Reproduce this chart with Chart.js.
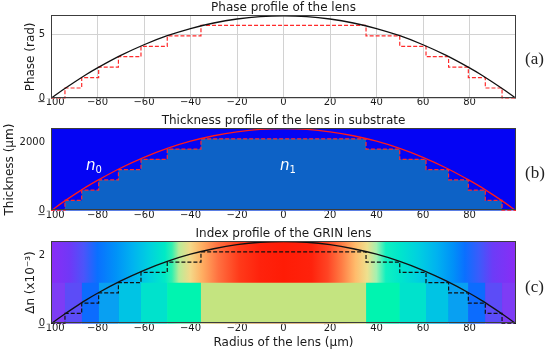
<!DOCTYPE html>
<html><head><meta charset="utf-8">
<script src="https://cdn.jsdelivr.net/npm/chart.js@4.4.0/dist/chart.umd.min.js"></script>
<style>
html,body{margin:0;padding:0;background:#fff;}
#wrap{position:relative;width:550px;height:353px;overflow:hidden;background:#fff;}
canvas{position:absolute;left:0;}
.tag{position:absolute;left:525px;font-family:"Liberation Serif","DejaVu Serif",serif;font-size:17px;line-height:17px;color:#222;}
</style></head><body>
<div id="wrap">
<canvas id="ca" style="top:0px" width="550" height="113"></canvas>
<canvas id="cb" style="top:113px" width="550" height="113"></canvas>
<canvas id="cc" style="top:226px" width="550" height="127"></canvas>
<div class="tag" style="top:50px">(a)</div>
<div class="tag" style="top:164px">(b)</div>
<div class="tag" style="top:278px">(c)</div>
</div>
<script>
// ---------- data ----------
const radius = [-100,-95,-90,-85,-80,-70,-60,-50,-40,-30,-20,-10,0,10,20,30,40,50,60,70,80,85,90,95,100];
const phaseCurve = [0,0.65,1.26,1.84,2.37,3.34,4.17,4.87,5.43,5.86,6.17,6.36,6.42,6.36,6.17,5.86,5.43,4.87,4.17,3.34,2.37,1.84,1.26,0.65,0];
const thicknessCurve = [0,243,471,688,886,1249,1559,1820,2030,2190,2306,2378,2400,2378,2306,2190,2030,1820,1559,1249,886,688,471,243,0];
const indexCurve = [0,0.24,0.47,0.69,0.89,1.25,1.56,1.82,2.03,2.19,2.31,2.38,2.40,2.38,2.31,2.19,2.03,1.82,1.56,1.25,0.89,0.69,0.47,0.24,0];
const stepEdges = [-100,-94,-86.8,-79.5,-71,-61.3,-50,-35.5,35.5,50,61.3,71,79.5,86.8,94,100];
const phaseSteps = [0,0.81,1.62,2.43,3.24,4.05,4.86,5.67,4.86,4.05,3.24,2.43,1.62,0.81,0,0];
const thicknessSteps = [0,300,600,900,1200,1500,1800,2100,1800,1500,1200,900,600,300,0,0];
const indexSteps = [0,0.3,0.6,0.9,1.2,1.5,1.8,2.1,1.8,1.5,1.2,0.9,0.6,0.3,0,0];
const blockLevel = 1.2;
const xTickValues = [-100,-80,-60,-40,-20,0,20,40,60,80];
const phaseTicks = [0,5];
const thicknessTicks = [0,2000];
const indexTicks = [0,2];
const phaseMax = 6.45, thicknessMax = 2405, indexMax = 2.405;

// ---------- styles ----------
const FONT = "'DejaVu Sans', sans-serif";
const TXT = '#1a1a1a';
const TICK = 10;
const blockColors = ['#7e3cf5','#5c4cf7','#0c6cfe','#08a0f2','#00c4e4','#00e2cc','#00f4b0','#c4e480',
                     '#00f4b0','#00e2cc','#00c4e4','#08a0f2','#0c6cfe','#5c4cf7','#7e3cf5'];
const bandStops = [[-100,'#8a2cf5'],[-92,'#7038f7'],[-86,'#4c54fa'],[-80,'#0a70ff'],[-72,'#0092f8'],
  [-65,'#00b2f0'],[-58,'#00d0e0'],[-51,'#00eac6'],[-48,'#30f0b0'],[-45,'#b8ec98'],[-40,'#f4d888'],
  [-35,'#ffae62'],[-28,'#ff7040'],[-19,'#ff3a1a'],[-10,'#ff220c'],[0,'#ff1c06'],[12,'#ff220c'],
  [19,'#ff4424'],[25,'#ff7c44'],[31,'#ffbc6c'],[36,'#eee08e'],[40,'#a4f0b0'],[44,'#10f0c0'],
  [50,'#00e6cc'],[58,'#00d0e0'],[66,'#00b2f0'],[73,'#0090f8'],[78,'#0a70ff'],[84,'#3a5cfb'],
  [90,'#6c3cf7'],[100,'#8a2cf5']];
const mediumLabels = [{main:'n',sub:'0',x:-85,y:1180},{main:'n',sub:'1',x:-1.5,y:1180}];

const pts = (xs, ys) => xs.map((x,i)=>({x, y:ys[i]}));
const fmt = v => v < 0 ? '\u2212' + Math.abs(v) : String(v);

function xScale(showTitle){
  return {
    type:'linear', min:-100, max:100, z:1,
    afterBuildTicks: s => { s.ticks = xTickValues.map(v=>({value:v})); },
    ticks:{ font:{family:FONT,size:TICK}, color:TXT, padding:-1.5, maxRotation:0, autoSkip:false, callback: fmt },
    grid:{ drawTicks:false, lineWidth:1 },
    border:{ display:false },
    title:{ display:showTitle, text:'Radius of the lens (\u03bcm)', color:TXT,
      font:{family:FONT,size:12}, padding:{top:0,bottom:3} }
  };
}
function yScale(max, tickVals, label, width){
  return {
    type:'linear', min:0, max:max, z:1,
    afterBuildTicks: s => { s.ticks = tickVals.map(v=>({value:v})); },
    afterFit: s => { s.width = width; },
    ticks:{ font:{family:FONT,size:TICK}, color:TXT, padding:6, callback: fmt },
    grid:{ drawTicks:false, lineWidth:1 },
    border:{ display:false },
    title:{ display:true, text:label, color:TXT, font:{family:FONT,size:12}, padding:{top:0,bottom:0} }
  };
}
const frame = {
  id:'frame',
  afterLayout(chart){
    // centre the panel title over the plotting area
    const t = chart.titleBlock, a = chart.chartArea;
    if (t && a) { t.left = a.left; t.right = a.right; t.width = a.right - a.left; }
  },
  afterDraw(chart){
    const a = chart.chartArea, c = chart.ctx;
    c.save(); c.strokeStyle = '#3c3c3c'; c.lineWidth = 1;
    c.strokeRect(Math.round(a.left)+0.5, Math.round(a.top)+0.5, Math.round(a.right-a.left)-1, Math.round(a.bottom-a.top)-1);
    c.restore();
  }
};
function baseOptions(titleText, padLeft){
  return {
    responsive:false, animation:false, devicePixelRatio:1,
    layout:{ padding:{left:padLeft, right:34, top:0, bottom:0} },
    plugins:{ legend:{display:false}, tooltip:{enabled:false},
      title:{ display:true, text:titleText, color:TXT, font:{family:FONT,size:12,weight:'normal'}, padding:{top:1,bottom:0} } },
    elements:{ point:{radius:0} }
  };
}

// ---------- (a) phase ----------
{
  const o = baseOptions('Phase profile of the lens', 24);
  o.scales = { x: xScale(false), y: yScale(phaseMax, phaseTicks, 'Phase (rad)', 27) };
  o.scales.x.afterFit = s => { s.height = 14.6; };
  o.scales.x.z = 0; o.scales.y.z = 0;
  o.scales.x.grid.color = '#d2d2d2'; o.scales.y.grid.color = '#d2d2d2';
  new Chart(document.getElementById('ca'), {
    type:'line',
    data:{ datasets:[
      { data: pts(radius, phaseCurve), borderColor:'#111', borderWidth:1.3, cubicInterpolationMode:'monotone', fill:false },
      { data: pts(stepEdges, phaseSteps), stepped:'before', borderColor:'#ff2a2a', borderWidth:1.2, borderDash:[4,2], fill:false }
    ]},
    options:o, plugins:[frame]
  });
}

// ---------- (b) thickness ----------
{
  const o = baseOptions('Thickness profile of the lens in substrate', 3);
  o.scales = { x: xScale(false), y: yScale(thicknessMax, thicknessTicks, 'Thickness (\u03bcm)', 48) };
  o.scales.x.afterFit = s => { s.height = 15.3; };
  o.scales.x.grid.color = 'rgba(255,255,255,0.35)'; o.scales.y.grid.color = 'rgba(255,255,255,0.35)';
  const labels = {
    id:'mediumLabels',
    afterDatasetsDraw(chart){
      const c = chart.ctx, xs = chart.scales.x, ys = chart.scales.y;
      c.save(); c.fillStyle = '#fff'; c.textBaseline = 'alphabetic';
      mediumLabels.forEach(l => {
        const px = xs.getPixelForValue(l.x), py = ys.getPixelForValue(l.y);
        c.font = "italic 15px " + FONT;
        c.fillText(l.main, px, py);
        const w = c.measureText(l.main).width;
        c.font = "10px " + FONT;
        c.fillText(l.sub, px + w, py + 3);
      });
      c.restore();
    }
  };
  new Chart(document.getElementById('cb'), {
    type:'line',
    data:{ datasets:[
      { data: pts(radius, thicknessCurve), borderColor:'#ff1a1a', borderWidth:1.3, cubicInterpolationMode:'monotone', fill:false },
      { data: pts(stepEdges, thicknessSteps), stepped:'before', borderColor:'#ff2a2a', borderWidth:1.2, borderDash:[4,2],
        fill:'origin', backgroundColor:'#0d62c6' },
      { data: [{x:-100,y:thicknessMax},{x:100,y:thicknessMax}], borderWidth:0, fill:'origin', backgroundColor:'#0404f4' }
    ]},
    options:o, plugins:[labels, frame]
  });
}

// ---------- (c) index ----------
{
  const o = baseOptions('Index profile of the GRIN lens', 24);
  o.scales = { x: xScale(true), y: yScale(indexMax, indexTicks, '\u0394n (x10\u207b\u00b3)', 27) };
  o.scales.x.afterFit = s => { s.height = 29.3; };
  o.scales.x.grid.color = 'rgba(215,215,215,0.6)'; o.scales.y.grid.color = 'rgba(215,215,215,0.6)';
  const blocks = blockColors.map((col,i) => ({
    data:[{x:stepEdges[i],y:blockLevel},{x:stepEdges[i+1],y:blockLevel}],
    borderWidth:0, fill:'origin', backgroundColor:col
  }));
  const band = {
    data:[{x:-100,y:indexMax},{x:100,y:indexMax}], borderWidth:0, fill:'origin',
    backgroundColor: ctx => {
      const ch = ctx.chart, a = ch.chartArea;
      if (!a) return '#ff2000';
      const xs = ch.scales.x;
      const g = ch.ctx.createLinearGradient(a.left,0,a.right,0);
      bandStops.forEach(([v,c]) => {
        const t = (xs.getPixelForValue(v)-a.left)/(a.right-a.left);
        g.addColorStop(Math.min(1,Math.max(0,t)), c);
      });
      return g;
    }
  };
  new Chart(document.getElementById('cc'), {
    type:'line',
    data:{ datasets:[
      { data: pts(radius, indexCurve), borderColor:'#111', borderWidth:1.3, cubicInterpolationMode:'monotone', fill:false },
      { data: pts(stepEdges, indexSteps), stepped:'before', borderColor:'#111', borderWidth:1.2, borderDash:[4,2], fill:false },
      ...blocks,
      band
    ]},
    options:o, plugins:[frame]
  });
}
</script>
</body></html>
